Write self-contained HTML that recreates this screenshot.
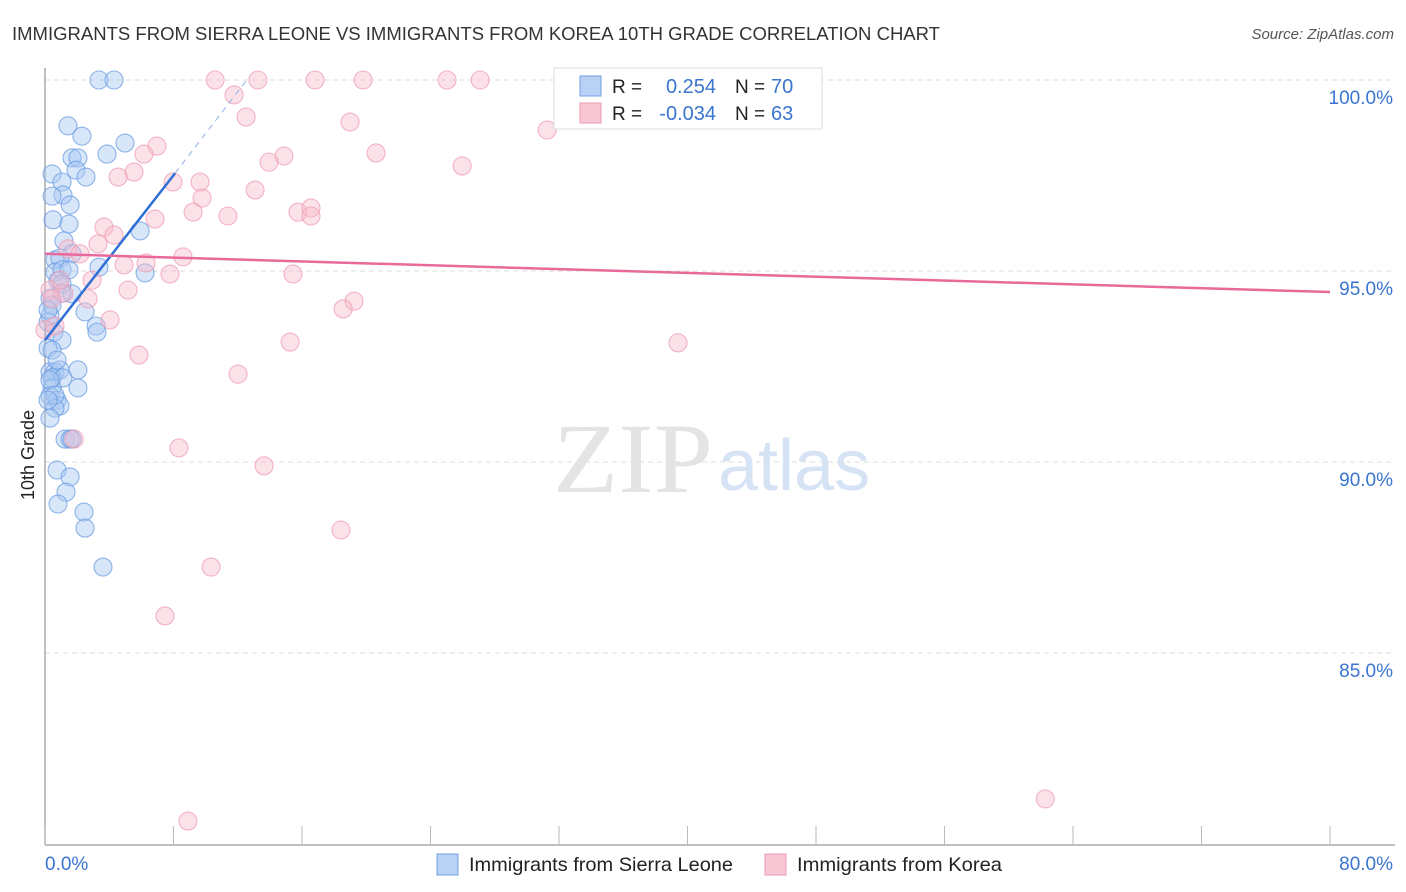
<!DOCTYPE html>
<html><head><meta charset="utf-8"><style>
body{margin:0;background:#fff;font-family:"Liberation Sans",sans-serif}
svg{display:block}
</style></head><body>
<svg id="chart" width="1406" height="892">
<text x="12" y="40" font-size="18" fill="#333" textLength="928" lengthAdjust="spacingAndGlyphs">IMMIGRANTS FROM SIERRA LEONE VS IMMIGRANTS FROM KOREA 10TH GRADE CORRELATION CHART</text>
<text x="1394" y="39" font-size="15" fill="#555" font-style="italic" text-anchor="end">Source: ZipAtlas.com</text>
<text transform="translate(34,455) rotate(-90)" font-size="18" fill="#222" text-anchor="middle">10th Grade</text>
<g id="grid"></g>
<text x="553" y="492" font-size="100" font-family="Liberation Serif,serif" fill="#e4e4e4" textLength="160" lengthAdjust="spacingAndGlyphs">ZIP</text>
<text x="718" y="490" font-size="72" fill="#d5e3f5">atlas</text>
<g id="axes"></g>
<g id="blue"></g>
<g id="pink"></g>
<g id="trends"></g>
<g>
<rect x="554" y="68" width="268" height="61" fill="#fff" stroke="#ddd"/>
<rect x="580" y="76" width="21" height="20" fill="#b8d2f5" stroke="#6f9fe0"/>
<rect x="580" y="103" width="21" height="20" fill="#f9c6d4" stroke="#ec9ab2"/>
<text x="612" y="93" font-size="19" fill="#222">R =</text>
<text x="716" y="93" font-size="20" fill="#3a75d0" text-anchor="end">0.254</text>
<text x="735" y="93" font-size="19" fill="#222">N =</text>
<text x="771" y="93" font-size="20" fill="#3a75d0">70</text>
<text x="612" y="120" font-size="19" fill="#222">R =</text>
<text x="716" y="120" font-size="20" fill="#3a75d0" text-anchor="end">-0.034</text>
<text x="735" y="120" font-size="19" fill="#222">N =</text>
<text x="771" y="120" font-size="20" fill="#3a75d0">63</text>
</g>
<g>
<rect x="437" y="854" width="21" height="21" fill="#b8d2f5" stroke="#6f9fe0"/>
<text x="469" y="871" font-size="19.5" fill="#222" textLength="264" lengthAdjust="spacingAndGlyphs">Immigrants from Sierra Leone</text>
<rect x="765" y="854" width="21" height="21" fill="#f9c6d4" stroke="#ec9ab2"/>
<text x="797" y="871" font-size="19.5" fill="#222" textLength="205" lengthAdjust="spacingAndGlyphs">Immigrants from Korea</text>
</g>
</svg>
<script>
const blueData=[[3.36,100],[4.30,100],[1.43,98.80],[2.30,98.53],[4.98,98.35],[3.86,98.06],[1.68,97.96],[2.05,97.96],[1.93,97.64],[2.55,97.46],[0.44,97.54],[1.06,97.33],[1.12,96.99],[0.44,96.96],[1.56,96.73],[0.50,96.34],[1.49,96.23],[5.92,96.05],[1.18,95.79],[1.68,95.45],[0.62,95.29],[0.93,95.34],[3.36,95.10],[0.62,94.97],[1.06,95.03],[1.49,95.03],[6.23,94.95],[0.81,94.74],[1.06,94.66],[1.68,94.40],[1.06,94.42],[0.31,94.29],[0.44,94.11],[2.49,93.93],[0.31,93.82],[0.19,93.66],[3.18,93.56],[3.24,93.40],[0.56,93.40],[1.06,93.19],[0.19,92.98],[0.31,92.36],[0.62,92.36],[0.93,92.41],[2.05,92.41],[0.44,92.20],[1.12,92.20],[0.44,91.94],[2.05,91.94],[0.31,91.73],[0.75,91.62],[0.93,91.47],[0.62,91.41],[0.31,91.15],[1.25,90.60],[1.56,90.60],[1.68,90.60],[0.75,89.79],[1.56,89.61],[1.31,89.21],[0.81,88.90],[2.43,88.69],[2.49,88.27],[3.61,87.25],[0.19,93.98],[0.44,92.93],[0.31,92.15],[0.62,91.75],[0.19,91.62],[0.75,92.67]];
const pinkData=[[10.59,100],[13.26,100],[16.81,100],[19.80,100],[25.03,100],[27.09,100],[39.60,99.95],[11.77,99.61],[12.52,99.03],[18.99,98.90],[31.26,98.69],[6.97,98.27],[6.16,98.06],[14.88,98.01],[20.61,98.09],[13.95,97.85],[25.97,97.75],[5.54,97.59],[4.55,97.46],[7.97,97.33],[9.65,97.33],[13.08,97.12],[9.78,96.91],[9.22,96.54],[11.39,96.44],[15.75,96.54],[16.56,96.65],[16.56,96.44],[6.85,96.36],[3.67,96.15],[4.30,95.94],[3.30,95.71],[1.43,95.58],[2.18,95.45],[8.59,95.37],[6.29,95.21],[4.92,95.16],[15.44,94.92],[7.78,94.92],[2.93,94.76],[5.17,94.50],[1.18,94.42],[2.68,94.27],[19.24,94.21],[18.56,94.01],[4.05,93.72],[0.62,93.56],[15.26,93.14],[39.41,93.12],[5.85,92.80],[12.02,92.30],[1.81,90.60],[8.34,90.37],[13.64,89.90],[18.43,88.22],[10.34,87.25],[7.47,85.97],[62.27,81.18],[8.90,80.60],[0.31,94.50],[0.93,94.76],[0,93.46],[0.44,94.27]];
const yTicks=[100,95,90,85];
const yTickLabels=["100.0%","95.0%","90.0%","85.0%"];
const xTicks=[0,8,16,24,32,40,48,56,64,72,80];
const xTickLabels=["0.0%","80.0%"];
const blueTrend=[[0,93.19],[8.1,97.56]];
const blueTrendExt=[[8.1,97.56],[12.65,100.05]];
const pinkTrend=[[0,95.45],[80,94.45]];
const NS="http://www.w3.org/2000/svg";
const X=v=>45+v*16.0625, Y=v=>80+(100-v)*38.2;
function mk(tag,attrs,parent){const e=document.createElementNS(NS,tag);for(const k in attrs)e.setAttribute(k,attrs[k]);parent.appendChild(e);return e;}
const grid=document.getElementById('grid'),axes=document.getElementById('axes');
yTicks.forEach((t,i)=>{
 const l=mk('line',{x1:45,x2:1395,y1:Y(t),y2:Y(t),stroke:'#ddd','stroke-dasharray':'5,4'},grid);
 
 
 const tx=mk('text',{x:1393,y:Y(t)+24,'font-size':19,fill:'#3a75d0','text-anchor':'end'},axes);
 tx.textContent=yTickLabels[i];
 
 
});
let ax=mk('line',{x1:45,x2:45,y1:68,y2:845,stroke:'#aaa','stroke-width':1.5},axes);


ax=mk('line',{x1:45,x2:1395,y1:845,y2:845,stroke:'#aaa','stroke-width':1.5},axes);


xTicks.forEach(t=>{
 const l=mk('line',{x1:X(t),x2:X(t),y1:826,y2:845,stroke:'#bbb'},axes);
 
 
});
[[0,'start'],[80,'end']].forEach((p,i)=>{
 const tx=mk('text',{x:i?1393:45,y:870,'font-size':19,fill:'#3a75d0','text-anchor':p[1]},axes);
 tx.textContent=xTickLabels[i];
 
 
});
function pts(data,g,fill,stroke,name){data.forEach(d=>{
 const c=mk('circle',{cx:X(d[0]),cy:Y(d[1]),r:9,fill:fill,'fill-opacity':0.45,stroke:stroke,'stroke-opacity':0.75,'stroke-width':1.1},g);
 
 
});}
pts(blueData,document.getElementById('blue'),'#a9c8f2','#6a9ce2','sierra-leone-point');
pts(pinkData,document.getElementById('pink'),'#f7bccd','#f09cb5','korea-point');
const tr=document.getElementById('trends');
function line(d,stroke,w,dash,name){const a={x1:X(d[0][0]),y1:Y(d[0][1]),x2:X(d[1][0]),y2:Y(d[1][1]),stroke:stroke,'stroke-width':w};if(dash)a['stroke-dasharray']=dash;const l=mk('line',a,tr);
 
 }
line(blueTrend,'#2f6fd6',2.5,null,'sierra-leone-trend-line');
line(blueTrendExt,'#8fb0e6',1,'6,5','sierra-leone-trend-extension');
line(pinkTrend,'#e8699a',2.5,null,'korea-trend-line');
</script>
</body></html>
